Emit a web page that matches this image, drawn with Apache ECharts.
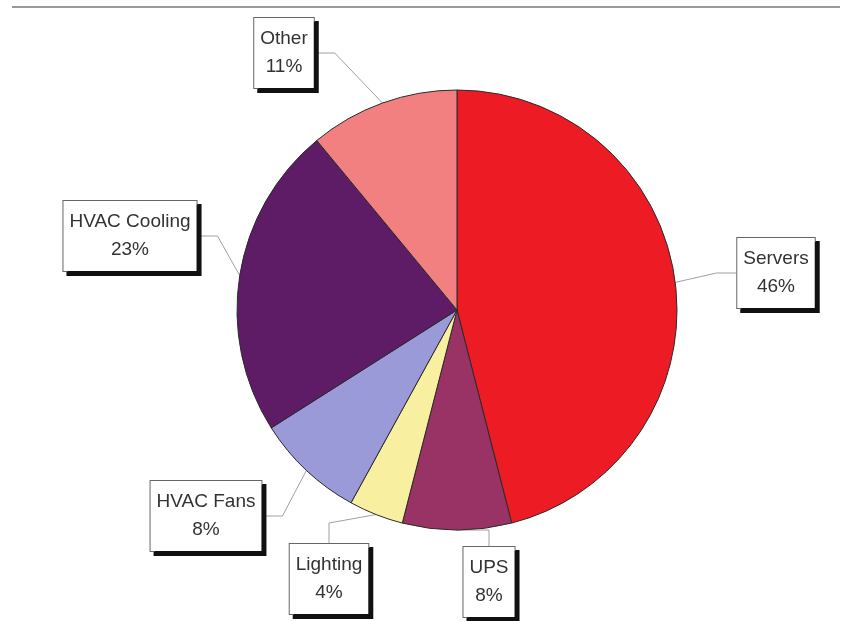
<!DOCTYPE html>
<html>
<head>
<meta charset="utf-8">
<script src="https://cdn.jsdelivr.net/npm/echarts@6/dist/echarts.min.js"></script>
<style>
  html, body { margin: 0; padding: 0; background: #fff; }
  #chart { width: 852px; height: 621px; }
</style>
</head>
<body>
<div id="chart"></div>
<script>
// slice names and shares (%)
const categories = ['Servers', 'UPS', 'Lighting', 'HVAC Fans', 'HVAC Cooling', 'Other'];
const shares = [46, 8, 4, 8, 23, 11];

// slice fill colours
const sliceColors = ['#ed1c24', '#993366', '#f8f0a0', '#9a9ad8', '#5e1b66', '#f28080'];
// centre of each label box, in pixels
const labelCenters = [[776, 273], [489, 582], [329, 579], [206, 516], [130, 236], [284, 53]];

const chart = echarts.init(document.getElementById('chart'));

chart.setOption({
  animation: false,
  graphic: [
    {
      type: 'line',
      shape: { x1: 12, y1: 7, x2: 840, y2: 7 },
      style: { stroke: '#9a9a9a', lineWidth: 2 }
    }
  ],
  series: [
    {
      type: 'pie',
      center: [457, 310],
      radius: 220,
      startAngle: 90,
      clockwise: true,
      avoidLabelOverlap: false,
      itemStyle: {
        borderColor: '#2a2a2a',
        borderWidth: 1
      },
      label: {
        show: true,
        position: 'outside',
        formatter: '{b}\n{c}%',
        fontFamily: 'Liberation Sans, Arial, sans-serif',
        fontSize: 19,
        lineHeight: 28,
        color: '#333',
        align: 'center',
        backgroundColor: '#fff',
        borderColor: '#666',
        borderWidth: 1,
        padding: [7, 6],
        shadowColor: '#111',
        shadowBlur: 0,
        shadowOffsetX: 4,
        shadowOffsetY: 4
      },
      labelLine: {
        show: true,
        length: 12,
        length2: 20,
        lineStyle: { color: '#a0a0a0', width: 1 }
      },
      labelLayout: function (params) {
        const c = labelCenters[params.dataIndex];
        return { x: c[0], y: c[1], align: 'center', verticalAlign: 'middle' };
      },
      data: categories.map((name, i) => ({
        name: name,
        value: shares[i],
        itemStyle: { color: sliceColors[i] }
      }))
    }
  ]
});
</script>
</body>
</html>
